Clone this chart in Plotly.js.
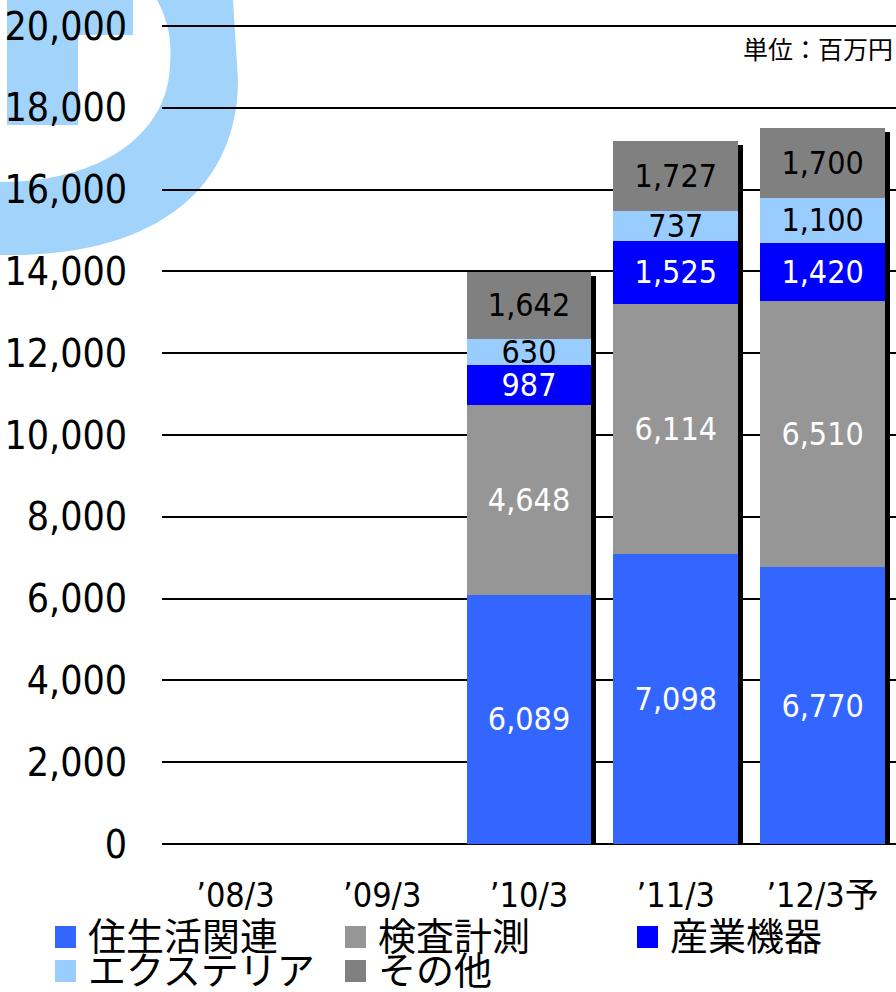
<!DOCTYPE html>
<html>
<head>
<meta charset="utf-8">
<script src="https://cdn.plot.ly/plotly-3.0.1.min.js"></script>
<style>html,body{margin:0;padding:0;background:#fff;}#chart{width:896px;height:992px;}</style>
</head>
<body>
<div id="chart"></div>
<script>
// ---- data ----
const categories = ["’08/3", "’09/3", "’10/3", "’11/3", "’12/3予"];
const seriesNames = ["住生活関連", "検査計測", "産業機器", "エクステリア", "その他"];
const jyuSeikatsu = [null, null, 6089, 7098, 6770];
const kensaKeisoku = [null, null, 4648, 6114, 6510];
const sangyoKiki = [null, null, 987, 1525, 1420];
const exterior = [null, null, 630, 737, 1100];
const sonota = [null, null, 1642, 1727, 1700];
const unitLabel = "単位：百万円";

// ---- style ----
const FONT = "'DejaVu Sans Condensed', 'Noto Sans CJK JP', sans-serif";
const colors = ["#3366FF", "#969696", "#0000FF", "#99CCFF", "#808080"];
const textColors = ["#ffffff", "#ffffff", "#ffffff", "#000000", "#000000"];
const seriesValues = [jyuSeikatsu, kensaKeisoku, sangyoKiki, exterior, sonota];

const W = 896, H = 992;
const M = {l: 162, r: 0, t: 24, b: 148};
const PW = W - M.l - M.r, PH = H - M.t - M.b;
const YMAX = 20050;
const px = X => (X - M.l) / PW;
const py = Y => (H - M.b - Y) / PH;
const P = (X, Y) => px(X).toFixed(5) + "," + py(Y).toFixed(5);

const totals = categories.map((c, i) => {
  const vals = seriesValues.map(s => s[i]);
  return vals.every(v => v == null) ? null : vals.reduce((a, v) => a + (v || 0), 0);
});

const bargap = 0.15;
const barW = 1 - bargap;
const shadowDx = 5 / (PW / categories.length);
const shadowDy = 4 * YMAX / PH;

const traces = [];
// drop shadow
traces.push({
  type: "bar", x: categories, y: totals, base: -shadowDy,
  width: barW, offset: -barW / 2 + shadowDx,
  marker: {color: "#000000", line: {width: 0}},
  hoverinfo: "skip", showlegend: false
});
seriesValues.forEach((vals, k) => {
  traces.push({
    type: "bar", name: seriesNames[k], x: categories, y: vals,
    marker: {color: colors[k], line: {width: 0}},
    texttemplate: "%{y:,}", textposition: "inside", insidetextanchor: "middle",
    textangle: 0, constraintext: "none",
    textfont: {family: FONT, size: 32, color: textColors[k]},
    showlegend: false
  });
});

// background decoration (light blue "D")
const shapes = [];
shapes.push({
  type: "path", xref: "paper", yref: "paper", layer: "below",
  path: "M" + P(7, 0) + " L" + P(233, 0) + " L" + P(238, 80) +
        " C" + P(238, 185) + " " + P(160, 258) + " " + P(0, 255) +
        " L" + P(0, 125) + " L" + P(7, 125) + " Z",
  fillcolor: "#A2D4FB", line: {width: 0}
});
shapes.push({
  type: "path", xref: "paper", yref: "paper", layer: "below",
  path: "M" + P(78, 35) + " L" + P(133, 35) + " L" + P(133, 0) + " L" + P(157, 0) +
        " C" + P(168, 20) + " " + P(172, 40) + " " + P(170, 65) +
        " C" + P(168, 135) + " " + P(100, 182) + " " + P(0, 182) +
        " L" + P(0, 125) + " L" + P(78, 125) + " Z",
  fillcolor: "#ffffff", line: {width: 0}
});

// legend (custom, large keys)
const legendPos = [[55, 937], [345, 937], [637, 937], [55, 971], [345, 971]];
const annotations = [];
seriesNames.forEach((name, k) => {
  const [lx, cy] = legendPos[k];
  shapes.push({
    type: "rect", xref: "paper", yref: "paper",
    x0: px(lx), x1: px(lx + 21), y0: py(cy + 11), y1: py(cy - 11),
    fillcolor: colors[k], line: {width: 0}
  });
  annotations.push({
    xref: "paper", yref: "paper", x: px(lx + 31), y: py(cy),
    xanchor: "left", yanchor: "middle", showarrow: false,
    text: name, font: {family: FONT, size: 38, color: "#000"}
  });
});
annotations.push({
  xref: "paper", yref: "paper", x: px(895), y: py(48),
  xanchor: "right", yanchor: "middle", showarrow: false,
  text: unitLabel, font: {family: "'Noto Sans CJK JP', sans-serif", size: 25, color: "#000"}
});

const layout = {
  width: W, height: H, margin: M,
  paper_bgcolor: "#ffffff", plot_bgcolor: "rgba(0,0,0,0)",
  barmode: "stack", bargap: bargap, showlegend: false,
  font: {family: FONT, color: "#000"},
  xaxis: {
    type: "category", categoryorder: "array", categoryarray: categories,
    range: [-0.5, categories.length - 0.5], fixedrange: true,
    showgrid: false, zeroline: false, showline: false,
    ticks: "outside", ticklen: 21, tickcolor: "rgba(0,0,0,0)",
    tickfont: {family: FONT, size: 34, color: "#000"}
  },
  yaxis: {
    range: [0, YMAX], tickvals: [0, 2000, 4000, 6000, 8000, 10000, 12000, 14000, 16000, 18000, 20000],
    tickformat: ",",
    showgrid: true, gridcolor: "#000", gridwidth: 2,
    zeroline: true, zerolinecolor: "#000", zerolinewidth: 2,
    showline: false, ticks: "outside", ticklen: 26, tickcolor: "rgba(0,0,0,0)",
    tickfont: {family: FONT, size: 39, color: "#000"}
  },
  shapes: shapes,
  annotations: annotations
};

Plotly.newPlot("chart", traces, layout, {staticPlot: true, displayModeBar: false});
</script>
</body>
</html>
